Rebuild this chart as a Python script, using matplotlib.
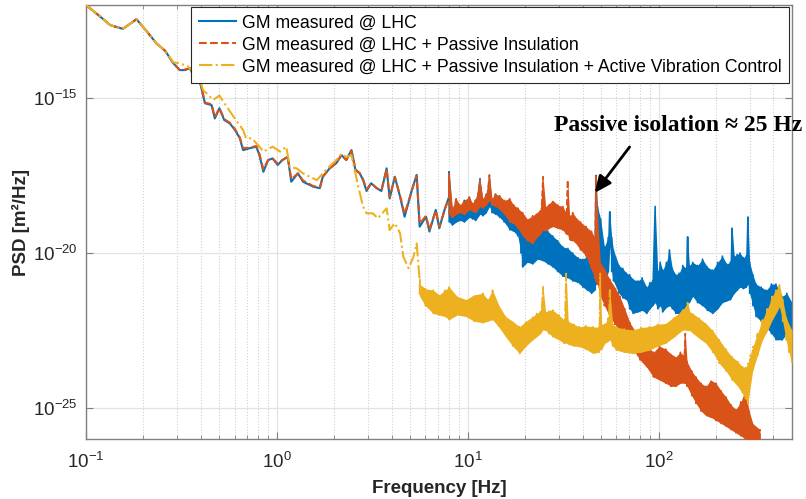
import numpy as np
import matplotlib
matplotlib.use("Agg")
import matplotlib.pyplot as plt
from matplotlib.ticker import LogLocator, NullFormatter, NullLocator

# ground motion PSD (frequency in Hz, PSD as log10 of m^2/Hz)

# GM measured @ LHC - clean part, 0.1-8 Hz
f_gm = [0.1, 0.12, 0.134, 0.156, 0.184, 0.21, 0.234, 0.26, 0.287, 0.31,
        0.33, 0.351, 0.372, 0.396, 0.42, 0.455, 0.473, 0.50, 0.53, 0.567,
        0.603, 0.64, 0.665, 0.72, 0.78, 0.81, 0.85, 0.90, 0.95, 1.01,
        1.07, 1.14, 1.19, 1.29, 1.37, 1.55, 1.68, 1.74, 1.89, 2.05,
        2.18, 2.31, 2.46, 2.58, 2.72, 2.83, 2.95, 3.12, 3.33, 3.53,
        3.76, 3.9, 4.15, 4.42, 4.67, 5.1, 5.4, 5.6, 6.05, 6.3,
        6.8, 7.1, 7.6, 8.0]
p_gm = [-12.0, -12.4, -12.65, -12.77, -12.46, -12.88, -13.24, -13.48, -13.88, -14.1,
        -14.1, -14.04, -14.42, -14.5, -15.17, -15.23, -15.66, -15.33, -15.71, -15.82,
        -16.03, -16.3, -16.68, -16.62, -16.57, -16.84, -17.38, -17.0, -16.95, -17.16,
        -17.0, -16.9, -17.7, -17.43, -17.7, -17.86, -17.91, -17.54, -17.27, -17.1,
        -16.84, -17.0, -16.68, -17.32, -17.43, -17.65, -18.0, -17.75, -17.91, -18.0,
        -17.27, -18.24, -17.54, -18.18, -18.83, -17.97, -17.48, -19.15, -18.83, -19.31,
        -18.61, -19.2, -18.56, -18.18]

# GM measured @ LHC - noisy band above 8 Hz (upper / lower edge)
fb_gm = [8.0, 8.3, 8.7, 9.1, 9.6, 10.2, 10.6, 11.0, 11.6, 12.0,
         12.5, 13.0, 13.4, 14.0, 14.7, 15.5, 16.6, 17.4, 18.3, 19.0,
         19.4, 20.5, 21.9, 23.2, 24.8, 26.3, 27.9, 29.6, 31.5, 33.5,
         35.5, 37.8, 40.1, 42.3, 44.5, 46.3, 47.0, 47.8, 49.7, 52.0,
         54.5, 55.5, 56.8, 58.0, 62.0, 65.0, 67.8, 70.5, 73.5, 78.0,
         82.0, 86.6, 90.0, 93.0, 96.0, 99.0, 102, 105, 110, 114,
         118, 123, 128, 134, 140, 142, 145, 151, 160, 170,
         180, 192, 204, 216, 227, 238, 243, 249, 258, 267,
         278, 288, 294, 300, 312, 324, 345, 367, 390, 412,
         444, 470, 500]
hi_gm = [-17.4, -18.6, -18.3, -18.5, -18.3, -18.2, -18.45, -18.3, -17.6, -18.3,
         -18.1, -17.6, -18.3, -18.1, -18.2, -18.35, -18.3, -18.5, -18.6, -18.9,
         -19.25, -19.4, -19.25, -19.35, -19.05, -19.3, -19.45, -19.6, -19.8, -19.85,
         -20.0, -20.15, -20.2, -20.1, -20.3, -19.5, -17.5, -18.5, -18.9, -19.8,
         -19.5, -18.67, -19.5, -19.9, -20.4, -20.5, -20.65, -20.7, -20.85, -20.9,
         -20.8, -21.1, -20.95, -20.9, -18.5, -20.6, -20.3, -20.55, -20.3, -19.9,
         -20.5, -20.7, -20.65, -20.4, -20.5, -19.48, -20.4, -20.3, -20.4, -20.2,
         -20.45, -20.55, -20.3, -20.1, -20.35, -20.3, -19.2, -20.1, -20.05, -20.0,
         -20.15, -20.1, -18.84, -20.3, -20.7, -21.0, -21.1, -21.2, -21.0, -21.0,
         -21.4, -21.3, -21.6]
lo_gm = [-19.0, -19.1, -19.0, -18.95, -19.0, -18.85, -18.9, -18.95, -18.75, -18.8,
         -18.7, -18.5, -18.7, -18.75, -18.85, -19.0, -19.25, -19.3, -19.45, -20.0,
         -20.45, -20.3, -20.35, -20.2, -20.25, -20.35, -20.45, -20.6, -20.75, -20.8,
         -20.9, -20.95, -21.1, -21.2, -21.3, -21.2, -21.0, -21.0, -20.8, -21.1,
         -20.6, -19.8, -20.6, -20.9, -21.3, -21.45, -21.5, -21.8, -21.95, -21.9,
         -21.85, -21.95, -21.8, -21.7, -21.6, -21.8, -21.7, -21.9, -21.75, -21.7,
         -21.8, -21.95, -21.95, -21.8, -21.8, -21.6, -21.6, -21.4, -21.6, -21.7,
         -21.85, -21.95, -21.8, -21.6, -21.55, -21.5, -21.4, -21.3, -21.2, -21.1,
         -21.15, -21.1, -21.0, -21.3, -21.7, -22.05, -22.2, -22.4, -22.6, -22.8,
         -22.8, -22.6, -22.6]

# + Passive Insulation - clean part, 0.1-8 Hz
f_pi = [0.1, 0.12, 0.134, 0.156, 0.184, 0.21, 0.234, 0.26, 0.287, 0.31,
        0.33, 0.351, 0.372, 0.396, 0.42, 0.455, 0.473, 0.50, 0.53, 0.567,
        0.603, 0.64, 0.665, 0.72, 0.78, 0.81, 0.85, 0.90, 0.95, 1.01,
        1.07, 1.14, 1.19, 1.29, 1.37, 1.55, 1.68, 1.74, 1.89, 2.05,
        2.18, 2.31, 2.46, 2.58, 2.72, 2.83, 2.95, 3.12, 3.33, 3.53,
        3.76, 3.9, 4.15, 4.42, 4.67, 5.1, 5.4, 5.6, 6.05, 6.3,
        6.8, 7.1, 7.6, 8.0]
p_pi = [-12.0, -12.4, -12.65, -12.77, -12.46, -12.88, -13.24, -13.48, -13.88, -14.1,
        -14.08, -14.04, -14.4, -14.48, -15.15, -15.2, -15.62, -15.33, -15.68, -15.8,
        -16.0, -16.28, -16.62, -16.6, -16.55, -16.8, -17.3, -17.0, -16.95, -17.12,
        -17.0, -16.9, -17.62, -17.43, -17.66, -17.84, -17.88, -17.54, -17.27, -17.1,
        -16.84, -17.0, -16.7, -17.3, -17.43, -17.62, -17.95, -17.75, -17.9, -17.98,
        -17.3, -18.2, -17.56, -18.15, -18.75, -17.97, -17.5, -19.05, -18.8, -19.25,
        -18.63, -19.15, -18.58, -18.2]

# + Passive Insulation - noisy band above 8 Hz
fb_pi = [8.0, 8.3, 8.7, 9.1, 9.6, 10.2, 10.6, 11.0, 11.6, 12.0,
         12.5, 13.0, 13.4, 14.0, 14.7, 15.5, 16.6, 17.4, 18.3, 19.4,
         20.5, 21.9, 23.0, 24.0, 24.8, 25.6, 26.8, 27.9, 29.6, 31.5,
         32.8, 33.4, 34.2, 35.5, 36.9, 39.0, 41.7, 44.5, 46.3, 47.0,
         47.8, 49.5, 52.0, 55.5, 59.0, 62.7, 66.5, 70.8, 75.0, 80.0,
         87.0, 94.0, 101, 109, 116, 123, 130, 135, 138, 141,
         149, 157, 167, 177, 188, 200, 213, 226, 240, 254,
         270, 285, 298, 312, 340]
hi_pi = [-17.45, -18.55, -18.25, -18.45, -18.3, -18.2, -18.4, -18.25, -17.65, -18.25,
         -18.1, -17.48, -18.25, -18.1, -18.15, -18.3, -18.25, -18.45, -18.55, -18.7,
         -18.9, -18.8, -18.7, -18.6, -17.54, -18.5, -18.4, -18.3, -18.45, -18.5,
         -18.7, -17.65, -18.8, -18.7, -18.85, -19.0, -19.15, -19.3, -19.5, -17.5,
         -18.7, -20.3, -20.5, -20.85, -21.1, -21.4, -21.8, -22.25, -22.5, -22.8,
         -23.0, -23.2, -23.0, -23.1, -23.25, -23.35, -23.2, -23.3, -22.6, -23.5,
         -23.8, -24.0, -24.2, -24.3, -24.1, -24.2, -24.45, -24.65, -24.9, -25.05,
         -24.8, -24.4, -25.1, -25.5, -25.7]
lo_pi = [-18.75, -18.85, -18.75, -18.7, -18.75, -18.6, -18.65, -18.7, -18.5, -18.55,
         -18.45, -18.3, -18.45, -18.5, -18.6, -18.75, -19.0, -19.05, -19.2, -19.45,
         -19.6, -19.7, -19.5, -19.4, -19.26, -19.3, -19.2, -19.15, -19.2, -19.26,
         -19.4, -19.4, -19.6, -19.6, -19.7, -19.9, -20.1, -20.55, -20.8, -20.9,
         -21.0, -21.4, -21.7, -22.05, -22.3, -22.5, -22.7, -22.9, -23.2, -23.45,
         -23.7, -24.0, -24.1, -24.2, -24.3, -24.3, -24.2, -24.2, -24.2, -24.3,
         -24.6, -24.85, -25.1, -25.25, -25.3, -25.4, -25.5, -25.6, -25.7, -25.8,
         -25.9, -26.0, -26.05, -26.1, -26.2]

# + Passive Insulation + Active Vibration Control - clean part, 0.1-5.6 Hz
f_avc = [0.1, 0.12, 0.134, 0.156, 0.184, 0.21, 0.234, 0.26, 0.287, 0.31,
         0.343, 0.365, 0.396, 0.41, 0.437, 0.464, 0.50, 0.546, 0.61, 0.665,
         0.69, 0.74, 0.81, 0.85, 0.95, 1.04, 1.12, 1.17, 1.27, 1.37,
         1.49, 1.62, 1.74, 1.89, 2.05, 2.18, 2.31, 2.46, 2.58, 2.67,
         2.83, 2.95, 3.18, 3.38, 3.76, 3.9, 4.15, 4.42, 4.6, 4.9,
         5.2, 5.4, 5.6]
p_avc = [-12.0, -12.4, -12.65, -12.77, -12.46, -12.88, -13.24, -13.48, -13.85, -13.88,
         -13.99, -14.15, -14.42, -14.74, -14.9, -15.06, -14.92, -15.28, -15.71, -16.03,
         -16.3, -16.3, -16.57, -16.73, -16.57, -16.73, -16.57, -17.22, -17.27, -17.43,
         -17.54, -17.65, -17.43, -17.2, -17.0, -16.8, -16.9, -16.85, -17.43, -17.86,
         -18.5, -18.72, -18.72, -18.88, -18.56, -19.26, -19.04, -19.36, -20.12, -20.49,
         -20.12, -19.69, -20.87]

# + Active Vibration Control - noisy band above 5.6 Hz
fb_avc = [5.6, 6.0, 6.6, 7.1, 7.6, 8.0, 8.8, 9.8, 10.8, 12.0,
          12.7, 13.5, 14.6, 15.8, 17.2, 18.7, 20.2, 21.9, 23.0, 24.0,
          24.8, 25.6, 26.7, 27.9, 30.0, 32.0, 32.8, 33.6, 36.0, 38.4,
          41.5, 45.3, 48.8, 49.5, 50.3, 52.4, 54.5, 55.5, 57.5, 60.0,
          66.0, 73.5, 81.0, 89.7, 99.0, 109, 121, 134, 142, 146,
          151, 163, 177, 192, 208, 225, 243, 260, 275, 285,
          294, 302, 312, 330, 350, 372, 394, 412, 430, 447,
          465, 482, 500]
hi_avc = [-21.0, -21.15, -21.2, -21.35, -21.2, -21.1, -21.4, -21.5, -21.35, -21.3,
          -21.5, -21.2, -21.7, -22.05, -22.2, -22.38, -22.2, -22.05, -21.95, -21.9,
          -21.09, -21.9, -21.85, -21.84, -22.0, -22.16, -20.66, -22.2, -22.3, -22.38,
          -22.35, -22.38, -22.4, -20.66, -22.3, -22.27, -22.1, -21.19, -22.3, -22.38,
          -22.45, -22.48, -22.4, -22.38, -22.3, -22.27, -22.05, -21.84, -21.6, -21.9,
          -21.95, -22.1, -22.27, -22.5, -22.8, -23.1, -23.35, -23.5, -23.67, -23.7,
          -23.56, -23.3, -23.02, -22.6, -22.16, -21.8, -21.4, -21.2, -21.03, -21.5,
          -22.05, -22.3, -22.5]
lo_avc = [-21.4, -21.7, -21.95, -22.0, -22.05, -22.15, -22.0, -22.05, -22.2, -22.25,
          -22.2, -22.15, -22.4, -22.7, -23.0, -23.24, -23.0, -22.8, -22.7, -22.6,
          -22.48, -22.5, -22.6, -22.7, -22.8, -22.91, -22.9, -22.95, -23.0, -23.02,
          -23.1, -23.24, -23.2, -23.1, -23.1, -22.91, -22.85, -22.8, -23.0, -23.13,
          -23.2, -23.24, -23.2, -23.13, -23.0, -22.91, -22.7, -22.48, -22.5, -22.5,
          -22.59, -22.75, -22.91, -23.2, -23.56, -23.8, -24.1, -24.3, -24.53, -24.7,
          -24.85, -24.3, -23.77, -23.3, -22.8, -22.5, -22.16, -21.95, -21.73, -22.2,
          -22.8, -23.2, -23.6]

labels = ["GM measured @ LHC",
          "GM measured @ LHC + Passive Insulation",
          "GM measured @ LHC + Passive Insulation + Active Vibration Control"]
colors = ["#0072BD", "#D95319", "#EDB120"]
styles = ["-", "--", "-."]

plt.rcParams['font.family'] = ['Liberation Sans', 'DejaVu Sans']
plt.rcParams['mathtext.fontset'] = 'custom'
plt.rcParams['mathtext.rm'] = 'Liberation Sans'
plt.rcParams['mathtext.it'] = 'Liberation Sans:italic'
plt.rcParams['mathtext.bf'] = 'Liberation Sans:bold'


def band_path(f, hi, lo):
    # vertical strokes between upper and lower edge at each frequency
    xs, ys = [], []
    for fi, h, l in zip(f, hi, lo):
        xs += [fi, fi]
        ys += [h, l]
    return np.array(xs), 10.0 ** np.array(ys)


fig = plt.figure(figsize=(8.06, 4.99), dpi=100)
ax = fig.add_axes([0.1067, 0.1202, 0.8759, 0.8698])

series = [(f_gm, p_gm, fb_gm, hi_gm, lo_gm),
          (f_pi, p_pi, fb_pi, hi_pi, lo_pi),
          (f_avc, p_avc, fb_avc, hi_avc, lo_avc)]

for k, (f, p, fb, hi, lo) in enumerate(series):
    z = 2 + k
    ax.plot(f, 10.0 ** np.array(p), color=colors[k], ls=styles[k], lw=1.5,
            label=labels[k], zorder=z)
    ax.fill_between(fb, 10.0 ** np.array(lo), 10.0 ** np.array(hi),
                    color=colors[k], lw=0, zorder=z)
    bx, by = band_path(fb, hi, lo)
    ax.plot(bx, by, color=colors[k], ls=styles[k], lw=1.2, zorder=z)
    # join the clean part to the band
    ax.plot([f[-1], fb[0]], [10.0 ** p[-1], 10.0 ** hi[0]], color=colors[k],
            ls='-', lw=1.3, zorder=z)

ax.set_xscale('log')
ax.set_yscale('log')
ax.set_xlim(0.1, 500)
ax.set_ylim(1e-26, 1e-12)
ax.set_yticks([1e-25, 1e-20, 1e-15])
ax.yaxis.set_minor_locator(NullLocator())
ax.xaxis.set_minor_locator(LogLocator(base=10, subs=np.arange(2, 10), numticks=30))
ax.xaxis.set_minor_formatter(NullFormatter())

ax.grid(True, which='major', color='#e3e3e3', lw=0.9, ls='-')
ax.grid(True, which='minor', axis='x', color='#cfcfcf', lw=0.8, ls=':')
ax.set_axisbelow(True)

for s in ax.spines.values():
    s.set_color('#808080')
    s.set_linewidth(1.0)
ax.tick_params(which='both', direction='in', top=True, right=True,
               color='#808080', labelcolor='#262626', labelsize=13.5)
ax.tick_params(which='major', length=5)
ax.tick_params(which='minor', length=3)
ax.tick_params(axis='x', pad=9)
ax.tick_params(axis='y', pad=6)

ax.set_xlabel('Frequency [Hz]', fontsize=13.5, fontweight='bold', color='#262626', labelpad=6)
ax.set_ylabel('PSD [m²/Hz]', fontsize=13.5, fontweight='bold', color='#262626', labelpad=2)

leg = ax.legend(loc='upper right', bbox_to_anchor=(0.996, 0.996), borderaxespad=0,
                fontsize=12.7, frameon=True, fancybox=False, handlelength=2.1,
                handletextpad=0.3, borderpad=0.45, labelspacing=0.28)
leg.get_frame().set_edgecolor('#262626')
leg.get_frame().set_linewidth(0.8)
leg.get_frame().set_alpha(1)
leg.set_zorder(10)

# annotation for the passive isolation resonance
ax.annotate('', xy=(46.3, 10 ** -18.06), xytext=(70.5, 10 ** -16.58),
            arrowprops=dict(arrowstyle='-|>,head_length=1.0,head_width=0.45',
                            color='black', lw=2, shrinkA=0, shrinkB=0),
            zorder=11)
ax.text(0.8385, 0.722, 'Passive isolation \u2248 25 Hz', transform=ax.transAxes,
        ha='center', va='center', fontsize=17, fontweight='bold',
        family=['Liberation Serif', 'DejaVu Serif'], clip_on=False, zorder=11)

fig.savefig('out.png', dpi=100)
